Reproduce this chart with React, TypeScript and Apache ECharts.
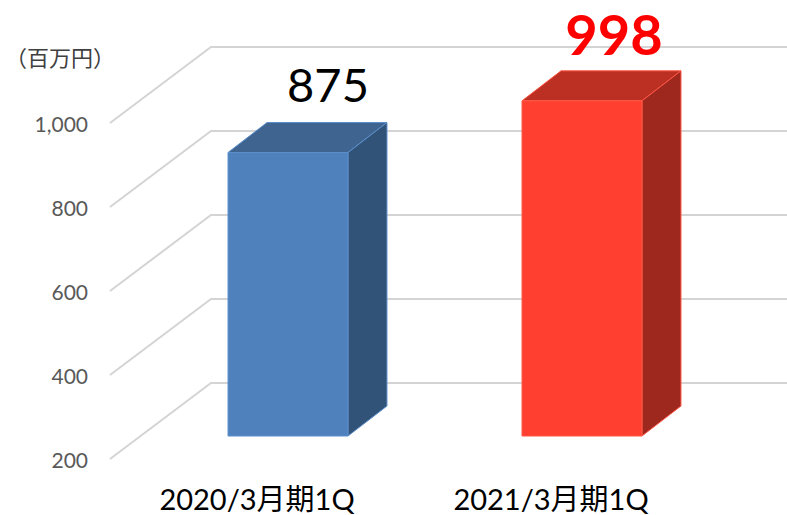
import React, { useEffect, useRef } from "react";
import * as echarts from "echarts";

const categories = ["2020/3月期1Q", "2021/3月期1Q"];
const values = [875, 998];
const yTicks = [200, 400, 600, 800, 1000];
const unitLabel = "（百万円）";

const fronts = ["#4f81bd", "#ff4030"];
const tops = ["#3f648f", "#bb3022"];
const sides = ["#325378", "#9e281d"];
const edges = ["#5b8fcb", "#ff5545"];
const labelColors = ["#000000", "#ff0000"];
const labelSizes = [47, 56];
const labelWeights = ["normal", "bold"];
const labelShiftX = [40, 32];
const labelShiftY = [-69, -67];

// projection of the pseudo-3D box
const WALL_DX = 101;
const WALL_DY = -76;
const GAP_DX = 31;
const GAP_DY = -23;
const BAR_DX = 39;
const BAR_DY = -30;
const BAR_RATIO = 0.408;
const FONT = 'Lato, "Noto Sans CJK JP", sans-serif';

export default function App() {
  const ref = useRef<HTMLDivElement>(null);
  useEffect(() => {
    const chart = echarts.init(ref.current!, null, { renderer: "svg" });
    chart.setOption({
      animation: false,
      backgroundColor: "#ffffff",
      textStyle: { fontFamily: FONT },
      grid: { left: 110, right: 89, top: 123, bottom: 56 },
      xAxis: {
        type: "category",
        data: categories,
        axisLine: { show: false },
        axisTick: { show: false },
        axisLabel: { color: "#000000", fontSize: 29, fontFamily: FONT, margin: 25 },
      },
      yAxis: {
        type: "value",
        min: 200,
        max: 1000,
        interval: 200,
        axisLine: { show: false },
        axisTick: { show: false },
        splitLine: { show: false },
        axisLabel: {
          color: "#595959",
          fontSize: 21,
          fontFamily: FONT,
          margin: 22,
          lineHeight: 24,
          padding: [4, 0, 0, 0],
          formatter: (v: number) => v.toLocaleString("en-US"),
        },
      },
      graphic: [
        {
          type: "text",
          left: 5,
          top: 45,
          style: {
            text: unitLabel,
            fill: "#404040",
            font: '22px "Noto Sans CJK JP", sans-serif',
          },
        },
      ],
      series: [
        {
          type: "custom",
          silent: true,
          data: yTicks.map((v) => [0, v]),
          encode: { x: 0, y: 1 },
          renderItem: (params: any, api: any) => {
            const y = api.coord([0, api.value(1)])[1];
            const x = params.coordSys.x;
            return {
              type: "polyline",
              shape: {
                points: [
                  [x, y],
                  [x + WALL_DX, y + WALL_DY],
                  [800, y + WALL_DY],
                ],
              },
              style: { fill: "none", stroke: "#d4d4d4", lineWidth: 2 },
            };
          },
        },
        {
          type: "custom",
          silent: true,
          data: values.map((v, i) => [i, v]),
          encode: { x: 0, y: 1 },
          renderItem: (params: any, api: any) => {
            const i = api.value(0);
            const [cx, yTop0] = api.coord([i, api.value(1)]);
            const [, yBase0] = api.coord([i, 200]);
            const w = api.size([1, 0])[0] * BAR_RATIO;
            const l = cx + GAP_DX - w / 2;
            const r = l + w;
            const t = yTop0 + GAP_DY;
            const b = yBase0 + GAP_DY;
            const edge = { stroke: edges[i], lineWidth: 1 };
            return {
              type: "group",
              children: [
                {
                  type: "polygon",
                  shape: { points: [[l, t], [r, t], [r + BAR_DX, t + BAR_DY], [l + BAR_DX, t + BAR_DY]] },
                  style: { fill: tops[i], ...edge },
                },
                {
                  type: "polygon",
                  shape: { points: [[r, t], [r + BAR_DX, t + BAR_DY], [r + BAR_DX, b + BAR_DY], [r, b]] },
                  style: { fill: sides[i], ...edge },
                },
                {
                  type: "rect",
                  shape: { x: l, y: t, width: w, height: b - t },
                  style: { fill: fronts[i], ...edge },
                },
                {
                  type: "text",
                  x: cx + GAP_DX + labelShiftX[i],
                  y: t + labelShiftY[i],
                  style: {
                    text: String(values[i]),
                    fill: labelColors[i],
                    font: `${labelWeights[i]} ${labelSizes[i]}px ${FONT}`,
                    align: "center",
                    verticalAlign: "middle",
                  },
                },
              ],
            };
          },
        },
      ],
    });
    return () => chart.dispose();
  }, []);
  return <div ref={ref} style={{ position: "fixed", left: 0, top: 0, width: 787, height: 515 }} />;
}
